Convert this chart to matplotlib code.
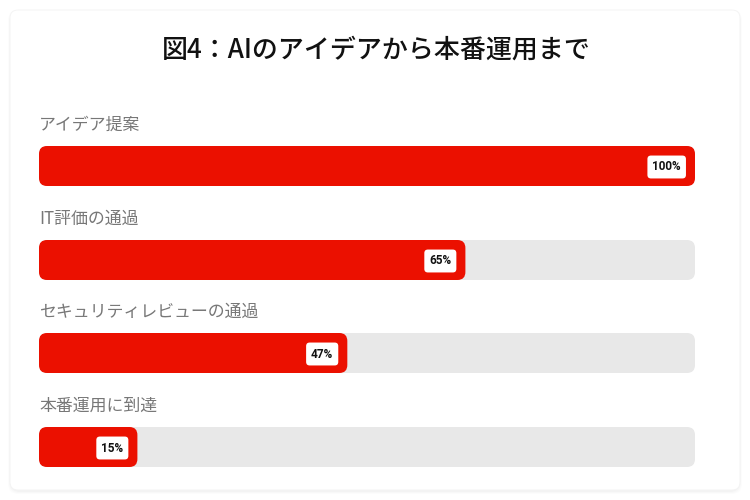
import matplotlib
matplotlib.use("Agg")
import matplotlib.pyplot as plt
from matplotlib.patches import FancyBboxPatch

plt.rcParams['font.family'] = ['Noto Sans CJK JP', 'DejaVu Sans']

title = "図4：AIのアイデアから本番運用まで"
categories = ["アイデア提案", "IT評価の通過", "セキュリティレビューの通過", "本番運用に到達"]
values = [100, 65, 47, 15]
value_labels = ["100%", "65%", "47%", "15%"]

BAR_COLOR = "#EB1000"
TRACK_COLOR = "#E8E8E8"

W, H = 750, 500
fig = plt.figure(figsize=(W / 100, H / 100), dpi=100)
fig.patch.set_facecolor("white")

# card background
bg = fig.add_axes([0, 0, 1, 1])
bg.set_xlim(0, W)
bg.set_ylim(H, 0)
bg.axis("off")
for i, a in enumerate([0.012, 0.015, 0.02]):
    d = 3 - i
    bg.add_patch(FancyBboxPatch((10 - d + 1, 10 - d + 3), 730 + 2 * d - 2, 480 + 2 * d - 2,
                                boxstyle="round,pad=0,rounding_size=10",
                                fc="black", ec="none", alpha=a))
bg.add_patch(FancyBboxPatch((10, 10), 730, 480, boxstyle="round,pad=0,rounding_size=8",
                            fc="white", ec="#f3f3f3", lw=0.6))
bg.text(W / 2 + 1, 50, title, ha="center", va="center", fontsize=18.7,
        fontweight="medium", color="#111111")

# bar axes: x in percent, y in pixels
x0, x1 = 39, 695
ax = fig.add_axes([x0 / W, 0, (x1 - x0) / W, 1])
ax.set_xlim(0, 100)
ax.set_ylim(H, 0)
ax.axis("off")
px_per_x = (x1 - x0) / 100.0
r = 8
rs = r / px_per_x
aspect = px_per_x

centers = [166, 260, 353, 447]
bh = 40
for c, cat, v, lab in zip(centers, categories, values, value_labels):
    ax.add_patch(FancyBboxPatch((0, c - bh / 2), 100, bh,
                                boxstyle=f"round,pad=0,rounding_size={rs}",
                                mutation_aspect=aspect, fc=TRACK_COLOR, ec="none"))
    ax.add_patch(FancyBboxPatch((0, c - bh / 2), v, bh,
                                boxstyle=f"round,pad=0,rounding_size={rs}",
                                mutation_aspect=aspect, fc=BAR_COLOR, ec="none"))
    ax.text(0, c - 41, cat, ha="left", va="center", fontsize=12.2, color="#777777")
    ax.annotate(lab, xy=(v, c), xytext=(-14, -1), textcoords="offset pixels",
                ha="right", va="center", fontsize=8.5, fontweight="bold", color="#111111",
                family=["Roboto", "DejaVu Sans"],
                bbox=dict(boxstyle="round,pad=0.42,rounding_size=0.3", fc="white", ec="none"))

fig.savefig("out.png", dpi=100)
